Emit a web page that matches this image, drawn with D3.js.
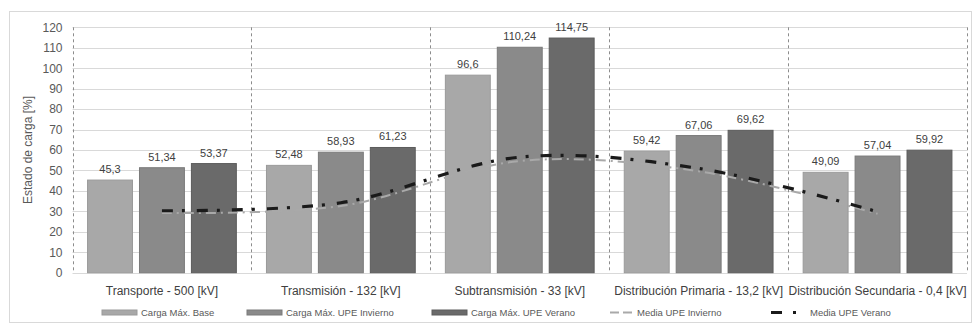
<!DOCTYPE html>
<html>
<head>
<meta charset="utf-8">
<script src="https://cdn.jsdelivr.net/npm/d3@7"></script>
<style>
  html, body { margin: 0; padding: 0; background: #fff; }
  svg { display: block; font-family: "Liberation Sans", Arial, sans-serif; }
</style>
</head>
<body>
<svg id="chart" width="972" height="325"></svg>
<script>
// Niveles de tensión (categorías)
const categories = [
  "Transporte - 500 [kV]",
  "Transmisión - 132 [kV]",
  "Subtransmisión - 33 [kV]",
  "Distribución Primaria - 13,2 [kV]",
  "Distribución Secundaria - 0,4 [kV]"
];

// Estado de carga máximo [%] por escenario
const cargaBase     = [45.3, 52.48, 96.6, 59.42, 49.09];
const cargaInvierno = [51.34, 58.93, 110.24, 67.06, 57.04];
const cargaVerano   = [53.37, 61.23, 114.75, 69.62, 59.92];

// Estado de carga medio [%]
const mediaInvierno = [29.2, 32.6, 54.6, 49.6, 28.8];
const mediaVerano   = [30.3, 34.2, 56.5, 51.0, 29.8];

const yTicks = [0, 10, 20, 30, 40, 50, 60, 70, 80, 90, 100, 110, 120];

const barSeries = [
  { name: "Carga Máx. Base",         values: cargaBase,     color: "#a8a8a8", stroke: "#9a9a9a" },
  { name: "Carga Máx. UPE Invierno", values: cargaInvierno, color: "#8a8a8a", stroke: "#7a7a7a" },
  { name: "Carga Máx. UPE Verano",   values: cargaVerano,   color: "#6a6a6a", stroke: "#5c5c5c" }
];

const lineSeries = [
  { name: "Media UPE Invierno", values: mediaInvierno, color: "#a9a9a9", width: 2,   dash: "10,5,2,5" },
  { name: "Media UPE Verano",   values: mediaVerano,   color: "#1a1a1a", width: 3.2, dash: "11,9,3,12" }
];

const svg = d3.select("#chart");
const plot = { left: 72.5, right: 967, top: 27.3, bottom: 272.7 };

// Marco exterior del gráfico
svg.append("rect")
  .attr("x", 9.5).attr("y", 11.5)
  .attr("width", 962).attr("height", 311)
  .attr("fill", "#fff").attr("stroke", "#d9d9d9");

const x0 = d3.scaleBand().domain(categories).range([plot.left, plot.right]).padding(0);
const x1 = d3.scaleBand().domain(barSeries.map(s => s.name))
  .range([0, x0.bandwidth()]).paddingInner(0.135).paddingOuter(0.29);
const y = d3.scaleLinear().domain([0, 120]).range([plot.bottom, plot.top]);

// Líneas de cuadrícula horizontales
svg.append("g").selectAll("line").data(yTicks).join("line")
  .attr("x1", plot.left).attr("x2", plot.right)
  .attr("y1", d => Math.round(y(d)) + 0.5).attr("y2", d => Math.round(y(d)) + 0.5)
  .attr("stroke", "#d9d9d9").attr("stroke-width", 1);

// Separadores verticales entre niveles de tensión
const seps = categories.map(c => x0(c)).concat([plot.right]);
svg.append("g").selectAll("line").data(seps).join("line")
  .attr("x1", d => Math.round(d) + 0.5).attr("x2", d => Math.round(d) + 0.5)
  .attr("y1", plot.top).attr("y2", plot.bottom)
  .attr("stroke", "#8c8c8c").attr("stroke-width", 1).attr("stroke-dasharray", "3,3");

// Eje Y
const yAxis = d3.axisLeft(y).tickValues(yTicks).tickSize(0).tickPadding(10);
const gy = svg.append("g").attr("transform", `translate(${plot.left},0)`).call(yAxis);
gy.select(".domain").remove();
gy.selectAll("text").attr("fill", "#595959").attr("font-size", 12)
  .attr("font-family", "Liberation Sans, Arial, sans-serif");

// Título del eje Y
svg.append("text")
  .attr("transform", `translate(32,${(plot.top + plot.bottom) / 2}) rotate(-90)`)
  .attr("text-anchor", "middle").attr("font-size", 12).attr("fill", "#595959")
  .text("Estado de carga [%]");

// Eje X
const xAxis = d3.axisBottom(x0).tickSize(0).tickPadding(14);
const gx = svg.append("g").attr("transform", `translate(0,${plot.bottom})`).call(xAxis);
gx.select(".domain").remove();
gx.selectAll("text").attr("fill", "#404040").attr("font-size", 12)
  .attr("font-family", "Liberation Sans, Arial, sans-serif");

// Barras
const groups = svg.append("g").selectAll("g").data(barSeries).join("g");
groups.selectAll("rect").data(s => s.values.map((v, i) => ({ s, v, c: categories[i] }))).join("rect")
  .attr("x", d => x0(d.c) + x1(d.s.name))
  .attr("y", d => y(d.v))
  .attr("width", x1.bandwidth())
  .attr("height", d => plot.bottom - y(d.v))
  .attr("fill", d => d.s.color)
  .attr("stroke", d => d.s.stroke).attr("stroke-width", 1);

// Etiquetas de valor
const fmt = v => String(v).replace(".", ",");
groups.selectAll("text").data(s => s.values.map((v, i) => ({ s, v, c: categories[i] }))).join("text")
  .attr("x", d => x0(d.c) + x1(d.s.name) + x1.bandwidth() / 2)
  .attr("y", d => y(d.v) - 7)
  .attr("text-anchor", "middle").attr("font-size", 11).attr("fill", "#404040")
  .text(d => fmt(d.v));

// Líneas de carga media (suavizadas)
const line = d3.line()
  .x((d, i) => x0(categories[i]) + x0.bandwidth() / 2)
  .y(d => y(d))
  .curve(d3.curveCatmullRom.alpha(0.5));
lineSeries.forEach(s => {
  svg.append("path").datum(s.values)
    .attr("d", line)
    .attr("fill", "none")
    .attr("stroke", s.color).attr("stroke-width", s.width)
    .attr("stroke-dasharray", s.dash);
});

// Leyenda
const legend = svg.append("g").attr("font-size", 9.5).attr("fill", "#595959");
const legendItems = [
  { type: "bar",  s: barSeries[0], x: 102 },
  { type: "bar",  s: barSeries[1], x: 247 },
  { type: "bar",  s: barSeries[2], x: 432 },
  { type: "line", s: lineSeries[0], x: 610 },
  { type: "line", s: lineSeries[1], x: 771 }
];
const ly = 312.5;
legendItems.forEach(it => {
  const g = legend.append("g").attr("transform", `translate(${it.x},${ly})`);
  if (it.type === "bar") {
    g.append("rect").attr("x", 0).attr("y", -2.5).attr("width", 35).attr("height", 5)
      .attr("fill", it.s.color).attr("stroke", it.s.stroke);
    g.append("text").attr("x", 39).attr("y", 3.5).text(it.s.name);
  } else {
    g.append("line").attr("x1", 0).attr("x2", 26).attr("y1", 0).attr("y2", 0)
      .attr("stroke", it.s.color).attr("stroke-width", it.s.width)
      .attr("stroke-dasharray", it.s === lineSeries[0] ? "9,4" : "11,11,3,20");
    g.append("text").attr("x", it.s === lineSeries[0] ? 27 : 39).attr("y", 3.5).text(it.s.name);
  }
});
</script>
</body>
</html>
